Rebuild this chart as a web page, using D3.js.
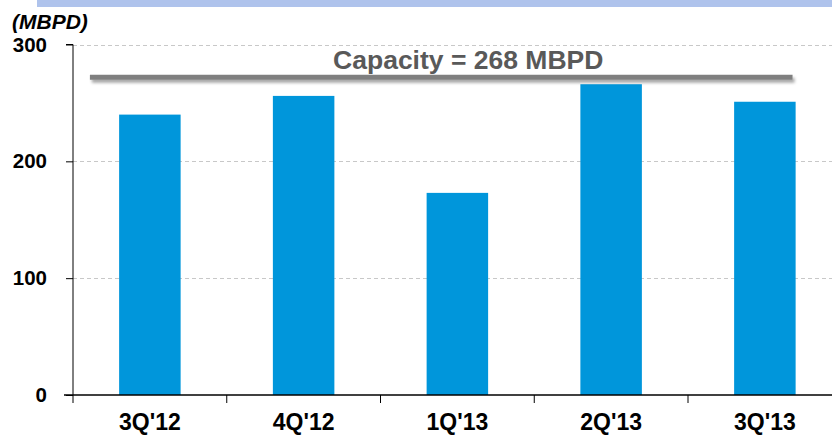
<!DOCTYPE html>
<html>
<head>
<meta charset="utf-8">
<script src="https://cdn.jsdelivr.net/npm/d3@7"></script>
<style>
  body { margin: 0; background: #fff; }
  svg text { font-family: "Liberation Sans", Arial, sans-serif; font-weight: bold; }
</style>
</head>
<body>
<svg id="chart" width="832" height="435"></svg>
<script>
// throughput by quarter vs. capacity

var quarters = ["3Q'12", "4Q'12", "1Q'13", "2Q'13", "3Q'13"];
var throughput = [240, 256, 173, 266, 251];
var yTicks = [0, 100, 200, 300];
var capacityLabel = 268;      // value written in the label
var capacityDrawn = 272;      // level where the line sits in the picture
var capacitySpan = [0.11, 4.68]; // in category-index units

var svg = d3.select("#chart"),
    margin = {top: 44.5, left: 73, bottom: 40},
    height = 435 - margin.top - margin.bottom,
    step = 153.75;

var defs = svg.append("defs");
var shadow = defs.append("filter").attr("id", "shadow")
    .attr("filterUnits", "userSpaceOnUse")
    .attr("x", 0).attr("y", 0).attr("width", 832).attr("height", 200);
shadow.append("feDropShadow")
    .attr("dx", 2).attr("dy", 3).attr("stdDeviation", 1.8)
    .attr("flood-color", "#000").attr("flood-opacity", 0.35);

// title banner (title text is cut off at the top)
svg.append("rect")
    .attr("x", 37).attr("y", 0).attr("width", 795).attr("height", 7)
    .attr("fill", "#afc3ec");

var x = d3.scaleBand()
    .domain(quarters)
    .range([margin.left, margin.left + step * quarters.length])
    .paddingInner(0.6).paddingOuter(0.3);

var xi = d3.scaleLinear()
    .domain([0, quarters.length])
    .range([margin.left, margin.left + step * quarters.length]);

var y = d3.scaleLinear()
    .domain([0, 300])
    .range([margin.top + height, margin.top]);

// grid
svg.append("g").selectAll("line")
    .data(yTicks.filter(function(d) { return d > 0; }))
    .enter().append("line")
    .attr("x1", margin.left).attr("x2", 832)
    .attr("y1", function(d) { return Math.round(y(d)) + 0.5; })
    .attr("y2", function(d) { return Math.round(y(d)) + 0.5; })
    .attr("stroke", "#c8c8c8")
    .attr("stroke-dasharray", "4,3");

// bars
svg.append("g").selectAll("rect")
    .data(throughput)
    .enter().append("rect")
    .attr("x", function(d, i) { return x(quarters[i]); })
    .attr("width", x.bandwidth())
    .attr("y", function(d) { return y(d); })
    .attr("height", function(d) { return y(0) - y(d); })
    .attr("fill", "#0096db");

// y axis
var yAxis = d3.axisLeft(y).tickValues(yTicks).tickSize(7).tickPadding(19);
var gy = svg.append("g")
    .attr("transform", "translate(" + margin.left + ",0)")
    .call(yAxis);
gy.select(".domain").attr("d", "M-7," + y(300) + "H0V" + y(0));
gy.selectAll("line").attr("stroke", "#000");
gy.selectAll("text").style("font-size", "20.5px").attr("fill", "#000");

// x axis: ticks between categories, labels centred
var gx = svg.append("g")
    .attr("transform", "translate(0," + y(0) + ")");
gx.append("line")
    .attr("x1", margin.left - 9).attr("x2", 832)
    .attr("y1", 0).attr("y2", 0)
    .attr("stroke", "#000").attr("stroke-width", 1.5);
gx.selectAll(".tk")
    .data(d3.range(quarters.length))
    .enter().append("line")
    .attr("class", "tk")
    .attr("x1", function(d) { return xi(d); })
    .attr("x2", function(d) { return xi(d); })
    .attr("y1", 0).attr("y2", 8)
    .attr("stroke", "#000");
gx.selectAll(".lb")
    .data(quarters)
    .enter().append("text")
    .attr("class", "lb")
    .attr("x", function(d) { return x(d) + x.bandwidth() / 2; })
    .attr("y", 35)
    .attr("text-anchor", "middle")
    .style("font-size", "23px")
    .text(function(d) { return d; });

// unit label
svg.append("text")
    .attr("x", 12).attr("y", 29)
    .style("font-size", "21px").style("font-style", "italic")
    .text("(MBPD)");

// capacity line
svg.append("line")
    .attr("x1", xi(capacitySpan[0])).attr("x2", xi(capacitySpan[1]))
    .attr("y1", y(capacityDrawn)).attr("y2", y(capacityDrawn))
    .attr("stroke", "#7f7f7f").attr("stroke-width", 5)
    .attr("filter", "url(#shadow)");

svg.append("text")
    .attr("x", (xi(capacitySpan[0]) + xi(capacitySpan[1])) / 2 + 27)
    .attr("y", 69)
    .attr("text-anchor", "middle")
    .attr("fill", "#595959")
    .style("font-size", "26.5px")
    .text("Capacity = " + capacityLabel + " MBPD");
</script>
</body>
</html>
